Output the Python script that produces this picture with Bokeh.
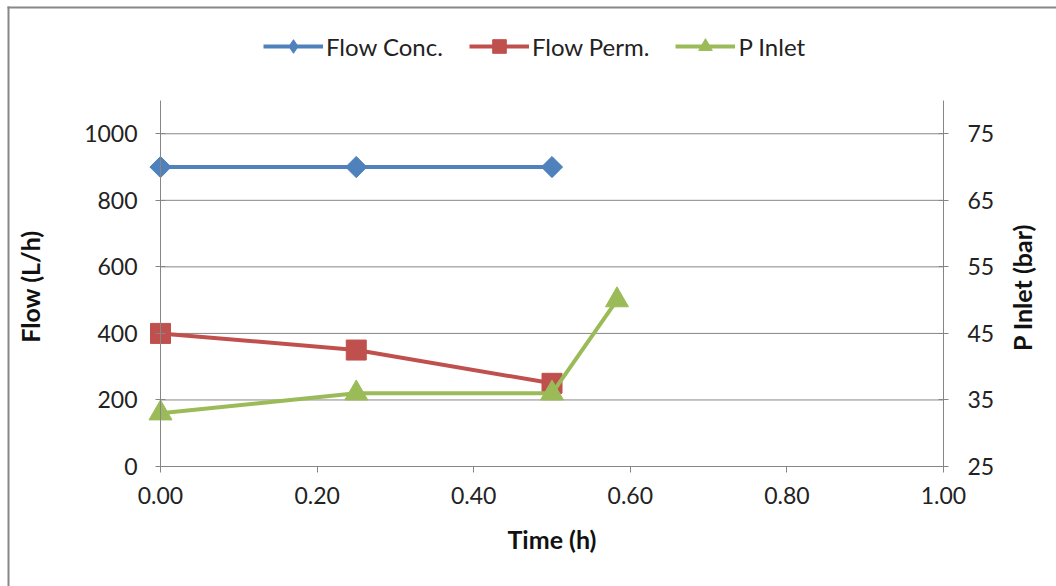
import math
from bokeh.plotting import figure
from bokeh.models import (Range1d, LinearAxis, FixedTicker, NumeralTickFormatter,
                          Legend, LegendItem, BoxAnnotation, Label)
from bokeh.embed import file_html
from bokeh.resources import INLINE

# Measurements
time_h = [0.0, 0.25, 0.50]
flow_conc = [900, 900, 900]
flow_perm = [400, 350, 250]
p_time_h = [0.0, 0.25, 0.50, 0.583]
p_inlet = [33, 36, 36, 50]

x_ticks = [0.0, 0.2, 0.4, 0.6, 0.8, 1.0]
flow_ticks = [0, 200, 400, 600, 800, 1000]
p_ticks = [25, 35, 45, 55, 65, 75]

X_LIM = (0.0, 1.0)
FLOW_LIM = (0, 1100)
P_LIM = (25, 80)

BLUE = "#4F81BD"
RED = "#C0504D"
GREEN = "#9BBB59"
GRAY = "#868686"
FONT = "Lato"

# canvas size and where the plotting box sits on it (pixels)
W, H = 1056, 586
BOX_L, BOX_R, BOX_T, BOX_B = 160, 943, 100, 466


def padded(lo, hi, px_lo, px_hi, span_px):
    """Extend a range so that [lo, hi] spans span_px pixels, with px_lo/px_hi extra."""
    per_px = (hi - lo) / span_px
    return Range1d(lo - px_lo * per_px, hi + px_hi * per_px)


# The frame fills the whole canvas so markers on the axes are not clipped;
# the axes are pinned to the data limits instead.
x_rng = padded(*X_LIM, BOX_L, W - BOX_R, BOX_R - BOX_L)
y_rng = padded(*FLOW_LIM, H - BOX_B, BOX_T, BOX_B - BOX_T)
p_rng = padded(*P_LIM, H - BOX_B, BOX_T, BOX_B - BOX_T)

p = figure(width=W, height=H, output_backend="svg", toolbar_location=None,
           x_range=x_rng, y_range=y_rng,
           min_border=0, min_border_left=0, min_border_right=0,
           min_border_top=0, min_border_bottom=0)
p.extra_y_ranges = {"p": p_rng}
p.outline_line_color = None
p.background_fill_color = "white"
p.border_fill_color = "white"
p.grid.visible = False

# horizontal gridlines across the plotting box
p.segment(x0=[X_LIM[0]] * len(flow_ticks), x1=[X_LIM[1]] * len(flow_ticks),
          y0=flow_ticks, y1=flow_ticks, line_color=GRAY, line_width=1)


def style_axis(ax):
    ax.axis_line_color = GRAY
    ax.axis_line_width = 1
    ax.major_tick_line_color = GRAY
    ax.minor_tick_line_color = None
    ax.major_label_text_font = FONT
    ax.major_label_text_font_size = "23px"
    ax.major_label_text_color = "#222222"
    ax.axis_label_text_font = FONT
    ax.axis_label_text_font_size = "25px"
    ax.axis_label_text_font_style = "bold"
    ax.axis_label_text_color = "#111111"


xa = p.xaxis[0]
style_axis(xa)
xa.fixed_location = FLOW_LIM[0]
xa.bounds = X_LIM
xa.ticker = FixedTicker(ticks=x_ticks)
xa.formatter = NumeralTickFormatter(format="0.00")
xa.major_tick_in = 0
xa.major_tick_out = 6
xa.major_label_standoff = 14
xa.axis_label = "Time (h)"
xa.axis_label_standoff = 17

ya = p.yaxis[0]
style_axis(ya)
ya.fixed_location = X_LIM[0]
ya.bounds = FLOW_LIM
ya.ticker = FixedTicker(ticks=flow_ticks)
ya.major_tick_in = 5
ya.major_tick_out = 5
ya.major_label_standoff = 18
ya.axis_label = "Flow  (L/h)"
ya.axis_label_standoff = 36

ra = LinearAxis(y_range_name="p", ticker=FixedTicker(ticks=p_ticks))
style_axis(ra)
ra.fixed_location = X_LIM[1]
ra.bounds = P_LIM
ra.major_tick_in = 5
ra.major_tick_out = 5
ra.major_label_standoff = 19
p.add_layout(ra, "right")

# right axis title, reading bottom to top
p.add_layout(Label(x=1021, y=H - 287, x_units="screen", y_units="screen",
                   text="P Inlet (bar)", angle=math.pi / 2,
                   text_align="center", text_baseline="middle",
                   text_font=FONT, text_font_size="25px",
                   text_font_style="bold", text_color="#111111"))

# series
l1 = p.line(time_h, flow_conc, line_color=BLUE, line_width=4)
m1 = p.scatter(time_h, flow_conc, marker="square", angle=math.pi / 4, size=15,
               fill_color=BLUE, line_color=BLUE)
l2 = p.line(time_h, flow_perm, line_color=RED, line_width=4)
m2 = p.scatter(time_h, flow_perm, marker="square", size=20,
               fill_color=RED, line_color=RED)
l3 = p.line(p_time_h, p_inlet, line_color=GREEN, line_width=4, y_range_name="p")
m3 = p.scatter(p_time_h, p_inlet, marker="triangle", size=23,
               fill_color=GREEN, line_color=GREEN, y_range_name="p")

# legend swatch for the diamond series (legend swatches ignore marker angle);
# hidden on the plot itself
m1_key = p.scatter(time_h, flow_conc, marker="diamond", fill_color=BLUE,
                   line_color=BLUE, visible=False)

legend = Legend(items=[
    LegendItem(label="Flow Conc.", renderers=[l1, m1_key]),
    LegendItem(label="Flow Perm.", renderers=[l2, m2]),
    LegendItem(label="P Inlet", renderers=[l3, m3]),
], orientation="horizontal", location=(263, H - 63))
legend.label_text_font = FONT
legend.label_text_font_size = "24px"
legend.label_text_color = "#222222"
legend.glyph_width = 60
legend.glyph_height = 34
legend.label_standoff = 3
legend.spacing = 26
legend.padding = 5
legend.margin = 0
legend.border_line_color = None
legend.background_fill_alpha = 0
p.add_layout(legend, "center")

# chart outline: left and top edges (the others run past the canvas)
p.add_layout(BoxAnnotation(left=7, right=9, top=H - 6,
                           left_units="screen", right_units="screen",
                           top_units="screen",
                           fill_color="#888888", fill_alpha=1, line_color=None))
p.add_layout(BoxAnnotation(left=7, top=H - 6, bottom=H - 8,
                           left_units="screen", top_units="screen",
                           bottom_units="screen",
                           fill_color="#888888", fill_alpha=1, line_color=None))

open("out.html", "w").write(file_html(p, INLINE))
